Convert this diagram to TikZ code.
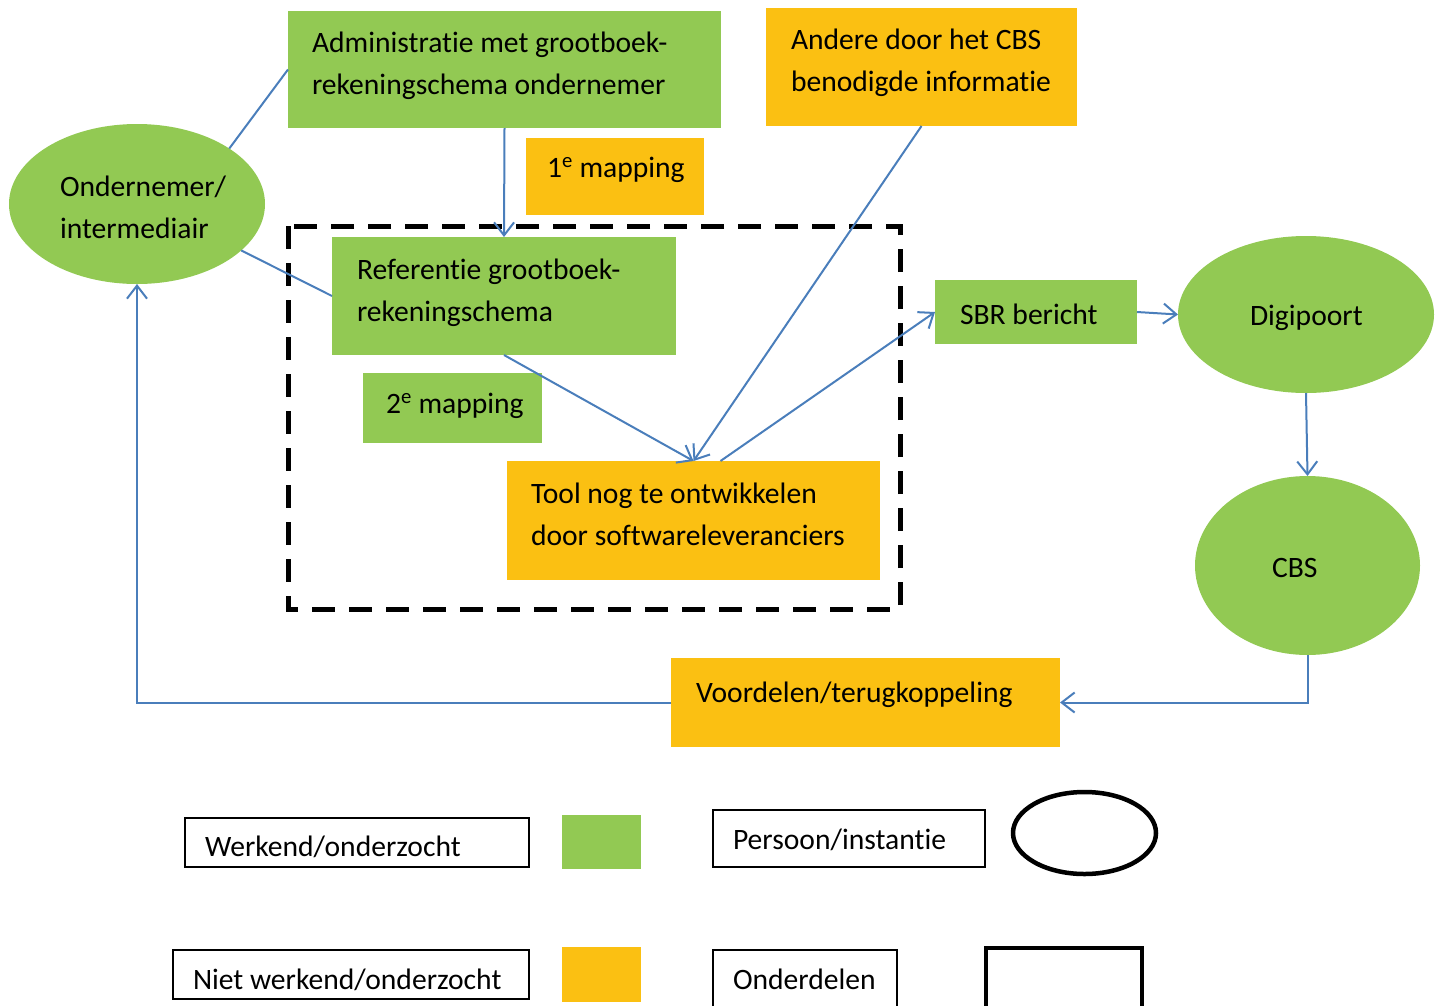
\documentclass[tikz,border=0pt]{standalone}
\usepackage{fontspec}
\setmainfont{Carlito}[Ligatures=NoCommon]
\usetikzlibrary{shapes.geometric,arrows.meta}
\definecolor{grn}{HTML}{92C953}
\definecolor{org}{HTML}{FBC012}
\definecolor{con}{HTML}{4A7EBB}
\begin{document}
\begin{tikzpicture}[x=1pt,y=-1pt,
  every node/.style={inner sep=0pt, outer sep=0pt},
  txt/.style={font=\fontsize{29.6}{42}\selectfont, align=left},
  gbox/.style={fill=grn, draw=none, anchor=north west, rectangle},
  obox/.style={fill=org, draw=none, anchor=north west, rectangle},
  gell/.style={fill=grn, draw=none, ellipse},
  conn/.style={draw=con, line width=2pt},
  arr/.style={conn, -{Straight Barb[length=13pt,width=20pt,line width=2pt]}},
  legbox/.style={draw=black, line width=1.3pt, fill=white, anchor=north west, rectangle},
  partsbox/.style={draw=black, dash pattern=on 23pt off 14pt, line width=5pt}
]
\useasboundingbox (0,0) rectangle (1443,1005);

% dashed part frame
\draw[partsbox] (288,226) rectangle (900,609);

% boxes
\node[gbox, minimum width=433pt, minimum height=117pt] (admin) at (288,11) {};
\node[obox, minimum width=311pt, minimum height=118pt] (andere) at (766,8) {};
\node[obox, minimum width=178pt, minimum height=77pt] (map1) at (526,138) {};
\node[gbox, minimum width=344pt, minimum height=118pt] (ref) at (332,237) {};
\node[gbox, minimum width=179pt, minimum height=70pt] (map2) at (363,373) {};
\node[obox, minimum width=373pt, minimum height=119pt] (tool) at (507,461) {};
\node[gbox, minimum width=202pt, minimum height=64pt] (sbr) at (935,280) {};
\node[obox, minimum width=389pt, minimum height=89pt] (voor) at (671,658) {};

% ellipses
\node[gell, minimum width=256pt, minimum height=160pt] (ond) at (137,204) {};
\node[gell, minimum width=256pt, minimum height=157pt] (digi) at (1306,314.5) {};
\node[gell, minimum width=225pt, minimum height=179pt] (cbs) at (1307.5,565.5) {};

% texts
\node[txt, anchor=west] (tadmin) at (312,66) {Administratie met grootboek-\\rekeningschema ondernemer};
\node[txt, anchor=west] (tandere) at (791,63) {Andere door het CBS\\benodigde informatie};
\node[txt, anchor=base west] (tmap1) at (547,177) {1\textsuperscript{e} mapping};
\node[txt, anchor=west] (tref) at (357,293) {Referentie grootboek-\\rekeningschema};
\node[txt, anchor=base west] (tmap2) at (386,413) {2\textsuperscript{e} mapping};
\node[txt, anchor=west] (ttool) at (531,514) {Tool nog te ontwikkelen\\door softwareleveranciers};
\node[txt, anchor=base west] (tsbr) at (960,324) {SBR bericht};
\node[txt, anchor=base west] (tvoor) at (696,702) {Voordelen/terugkoppeling};
\node[txt, anchor=west] (tond) at (60,207) {Ondernemer/\\intermediair};
\node[txt, anchor=base west] (tdigi) at (1250,325) {Digipoort};
\node[txt, anchor=base west] (tcbs) at (1272,577) {CBS};

% connectors
\draw[conn] (admin.west) -- (ond.31);
\draw[conn] (ond.-24) -- (ref.west);
\draw[arr] (admin.south) -- (ref.north);
\draw[arr] (ref.south) -- (tool.north);
\draw[arr] (andere.south) -- (tool.north);
\draw[arr] ([xshift=27pt]tool.north) -- (sbr.west);
\draw[arr] (sbr.east) -- (digi.west);
\draw[arr] (digi.south) -- (cbs.north);
\draw[arr] (cbs.south) -- (cbs.south |- voor.east) -- (voor.east);
\draw[arr] (voor.west) -- (voor.west -| ond.south) -- (ond.south);

% legend
\node[legbox, minimum width=344pt, minimum height=49pt] (lwerk) at (185,818) {};
\node[txt, anchor=base west] (tlwerk) at (205,856) {Werkend/onderzocht};
\node[gbox, minimum width=79pt, minimum height=54pt] (lgreen) at (562,815) {};
\node[legbox, minimum width=272pt, minimum height=57pt] (lpers) at (713,810) {};
\node[txt, anchor=base west] (tlpers) at (733,849) {Persoon/instantie};
\node[draw=black, line width=4.5pt, ellipse, minimum width=143pt, minimum height=82pt] (lell) at (1084.5,833) {};
\node[legbox, minimum width=356pt, minimum height=49pt] (lniet) at (173,950) {};
\node[txt, anchor=base west] (tlniet) at (193,989) {Niet werkend/onderzocht};
\node[obox, minimum width=79pt, minimum height=55pt] (lorange) at (562,947) {};
\node[legbox, minimum width=184pt, minimum height=70pt] (lond) at (713,950) {};
\node[txt, anchor=base west] (tlond) at (733,989) {Onderdelen};
\node[draw=black, line width=4.5pt, rectangle, anchor=north west, minimum width=156pt, minimum height=80pt] (lrect) at (986,948) {};
\end{tikzpicture}
\end{document}
